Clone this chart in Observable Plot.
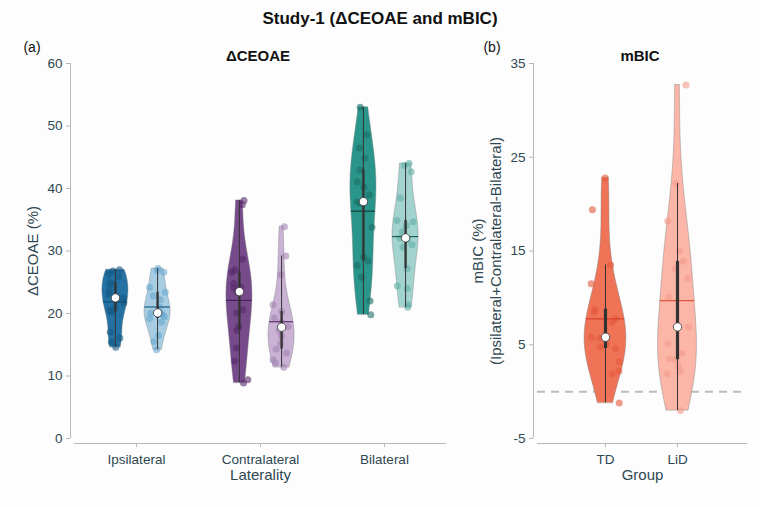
<!DOCTYPE html>
<html><head><meta charset="utf-8">
<script src="https://cdn.jsdelivr.net/npm/d3@7"></script>
<script src="https://cdn.jsdelivr.net/npm/@observablehq/plot@0.6"></script>
<style>
body{margin:0;background:#fff;}
#wrap{position:relative;width:760px;height:507px;font-family:"Liberation Sans",Arial,sans-serif;background:#fdfdfd;overflow:hidden}
#wrap svg{position:absolute;top:0;overflow:visible}
.t{position:absolute;white-space:nowrap;transform:translate(-50%,-50%);color:#111}
</style></head><body><div id="wrap">
<div class="t" style="left:380px;top:19px;font-weight:bold;font-size:17px">Study-1 (ΔCEOAE and mBIC)</div>
<div class="t" style="left:32px;top:47px;font-size:14px">(a)</div>
<div class="t" style="left:258px;top:55px;font-weight:bold;font-size:15px">ΔCEOAE</div>
<div class="t" style="left:492px;top:47px;font-size:14px">(b)</div>
<div class="t" style="left:640px;top:55px;font-weight:bold;font-size:15px">mBIC</div>
</div>
<script>
// ---- data ----
const laterality = ["Ipsilateral", "Contralateral", "Bilateral"];
const groups = ["TD", "LiD"];
const ceoaeIpsiTD = [27.0, 26.8, 26.3, 25.9, 25.0, 24.6, 23.6, 23.1, 22.5, 21.7, 21.0, 20.5, 20.2, 17.0, 16.1, 15.4, 14.6];
const ceoaeIpsiLiD = [27.2, 26.9, 26.6, 24.2, 23.4, 22.8, 22.2, 21.0, 20.1, 20.0, 19.8, 19.5, 19.2, 18.6, 16.5, 15.5, 14.2];
const ceoaeContraTD = [38.1, 37.4, 28.7, 27.0, 26.6, 24.8, 24.3, 24.1, 23.5, 20.6, 20.1, 17.9, 17.3, 14.5, 12.4, 9.4, 8.9];
const ceoaeContraLiD = [33.9, 29.2, 26.2, 21.4, 20.3, 19.3, 18.6, 17.9, 17.8, 17.3, 16.4, 15.2, 14.3, 13.7, 12.6, 12.1, 11.4];
const ceoaeBilatTD = [53.0, 48.6, 46.5, 44.9, 43.0, 41.1, 40.2, 39.0, 37.9, 37.6, 33.8, 29.0, 28.4, 27.7, 25.8, 22.0, 19.8];
const ceoaeBilatLiD = [44.0, 43.7, 42.7, 38.5, 34.9, 34.7, 34.1, 33.1, 32.1, 31.8, 31.0, 30.6, 27.2, 24.4, 24.0, 21.4, 21.0];
const mbicTD = [22.8, 19.4, 13.5, 11.5, 8.8, 8.5, 7.8, 7.4, 5.8, 5.7, 5.1, 4.8, 4.6, 3.2, 2.2, 1.9, -1.2];
const mbicLiD = [32.7, 22.2, 18.2, 15.0, 13.9, 13.1, 12.1, 10.1, 6.9, 5.1, 4.1, 3.5, 3.4, 2.7, 2.2, 1.9, -2.0];
const yTicksLeft = [0, 10, 20, 30, 40, 50, 60];
const yTicksRight = [-5, 5, 15, 25, 35];

// colours: [violin fill, point colour, mean line]
const colIpsi = [["#2372a3", "#155a86", "#124d73"], ["#a7cde3", "#6aa8cf", "#1f5f88"]];
const colContra = [["#774a8b", "#56296a", "#45205a"], ["#cab2d5", "#a284b3", "#5e2f72"]];
const colBilat = [["#2a958b", "#1b6f66", "#17403c"], ["#a2d3ce", "#62b0a8", "#1d5c56"]];
const colMbic = [["#ef7457", "#e5583c", "#d8432a"], ["#fbb6a8", "#f5998a", "#e0553e"]];

const textColor = "#2e4852";
const axisColor = "#b8b8b8";
const font = "Liberation Sans, Arial, sans-serif";

function violin(values, pos, hw, jit, cols, rng, boxW) {
  const n = values.length;
  const h = d3.deviation(values) * Math.pow(n, -0.2);
  const lo = d3.min(values), hi = d3.max(values);
  const dens = y => d3.sum(values, v => Math.exp(-0.5 * ((y - v) / h) ** 2));
  const grid = d3.range(121).map(i => lo + (hi - lo) * i / 120);
  const ds = grid.map(dens);
  const mx = d3.max(ds);
  const area = grid.map((y, i) => ({y, x1: pos - ds[i] / mx * hw, x2: pos + ds[i] / mx * hw}));
  const q1 = d3.quantile(values, 0.25), q3 = d3.quantile(values, 0.75);
  const iqr = q3 - q1;
  const mean = d3.mean(values);
  const mw = dens(mean) / mx * hw;
  const st = {
    pos, q1, q3, median: d3.median(values), mean,
    m1: pos - mw, m2: pos + mw,
    wlo: d3.min(values.filter(v => v >= q1 - 1.5 * iqr)),
    whi: d3.max(values.filter(v => v <= q3 + 1.5 * iqr))
  };
  const pts = values.map(v => ({y: v, x: pos + rng() * jit}));
  return [
    Plot.areaX(area, {y: "y", x1: "x1", x2: "x2", fill: cols[0], stroke: "#7a7a7a", strokeWidth: 0.7, strokeOpacity: 0.6, curve: "linear"}),
    Plot.dot(pts, {x: "x", y: "y", r: 3.5, fill: cols[1], fillOpacity: 0.6, stroke: "none"}),
    Plot.ruleY([st], {y: "mean", x1: "m1", x2: "m2", stroke: cols[2], strokeWidth: 1.2}),
    Plot.ruleX([st], {x: "pos", y1: "wlo", y2: "whi", stroke: "#333", strokeWidth: 1}),
    Plot.ruleX([st], {x: "pos", y1: "q1", y2: "q3", stroke: "#333", strokeWidth: boxW}),
    Plot.dot([st], {x: "pos", y: "median", r: 4.2, fill: "white", stroke: "#333", strokeWidth: 0.8})
  ];
}

const rngL = d3.randomUniform.source(d3.randomLcg(0.42))(-1, 1);
const leftSets = [[ceoaeIpsiTD, ceoaeIpsiLiD, colIpsi], [ceoaeContraTD, ceoaeContraLiD, colContra], [ceoaeBilatTD, ceoaeBilatLiD, colBilat]];
const leftMarks = [];
leftSets.forEach(([a, b, cols], i) => {
  leftMarks.push(...violin(a, i - 0.17, 0.105, 0.07, cols[0], rngL, 2.3));
  leftMarks.push(...violin(b, i + 0.17, 0.105, 0.07, cols[1], rngL, 2.3));
});

const left = Plot.plot({
  width: 460, height: 507,
  marginLeft: 74, marginRight: 14, marginTop: 63, marginBottom: 69,
  x: {domain: [-0.5, 2.5]},
  y: {domain: [0, 60]},
  style: {background: "none", fontFamily: font, fontSize: "13.5px", color: textColor, overflow: "visible"},
  marks: [
    Plot.ruleX([-0.5], {y1: 0, y2: 60, dx: -4, stroke: axisColor}),
    Plot.ruleY([0], {x1: -0.5, x2: 2.5, dy: 5, stroke: axisColor}),
    Plot.axisY(yTicksLeft, {tickSize: 4, dx: -4, tickPadding: 4, stroke: axisColor, label: null}),
    Plot.axisX([0, 1, 2], {tickSize: 4, dy: 5, tickPadding: 7, stroke: axisColor, tickFormat: i => laterality[i], label: null}),
    Plot.text(["ΔCEOAE (%)"], {frameAnchor: "left", textAnchor: "middle", dx: -41, rotate: -90, fontSize: 15, fill: textColor}),
    Plot.text(["Laterality"], {frameAnchor: "bottom", dy: 41, fontSize: 15, fill: textColor}),
    ...leftMarks
  ]
});
left.style.left = "0px";
document.getElementById("wrap").appendChild(left);

const rngR = d3.randomUniform.source(d3.randomLcg(0.77))(-1, 1);
const rightMarks = [
  ...violin(mbicTD, 0, 0.29, 0.2, colMbic[0], rngR, 3.2),
  ...violin(mbicLiD, 1, 0.27, 0.16, colMbic[1], rngR, 3.2)
];

const right = Plot.plot({
  width: 300, height: 507,
  marginLeft: 77, marginRight: 13, marginTop: 63, marginBottom: 69,
  x: {domain: [-0.944, 1.972]},
  y: {domain: [-5, 35]},
  style: {background: "none", fontFamily: font, fontSize: "13.5px", color: textColor, overflow: "visible"},
  marks: [
    Plot.ruleX([-0.944], {y1: -5, y2: 35, dx: -4, stroke: axisColor}),
    Plot.ruleY([-5], {x1: -0.944, x2: 1.972, dy: 5, stroke: axisColor}),
    Plot.axisY(yTicksRight, {tickSize: 4, dx: -4, tickPadding: 4, stroke: axisColor, tickFormat: d => String(d), label: null}),
    Plot.axisX([0, 1], {tickSize: 4, dy: 5, tickPadding: 7, stroke: axisColor, tickFormat: i => groups[i], label: null}),
    Plot.ruleY([0], {x1: -0.944, x2: 1.972, stroke: "#bdbdbd", strokeWidth: 2, strokeDasharray: "8,6"}),
    Plot.text(["mBIC (%)"], {frameAnchor: "left", textAnchor: "middle", dx: -59, rotate: -90, fontSize: 15, fill: textColor}),
    Plot.text(["(Ipsilateral+Contralateral-Bilateral)"], {frameAnchor: "left", textAnchor: "middle", dx: -41, rotate: -90, fontSize: 15, fill: textColor}),
    Plot.text(["Group"], {frameAnchor: "bottom", dy: 41, fontSize: 15, fill: textColor}),
    ...rightMarks
  ]
});
right.style.left = "460px";
document.getElementById("wrap").appendChild(right);
</script>
</body></html>
